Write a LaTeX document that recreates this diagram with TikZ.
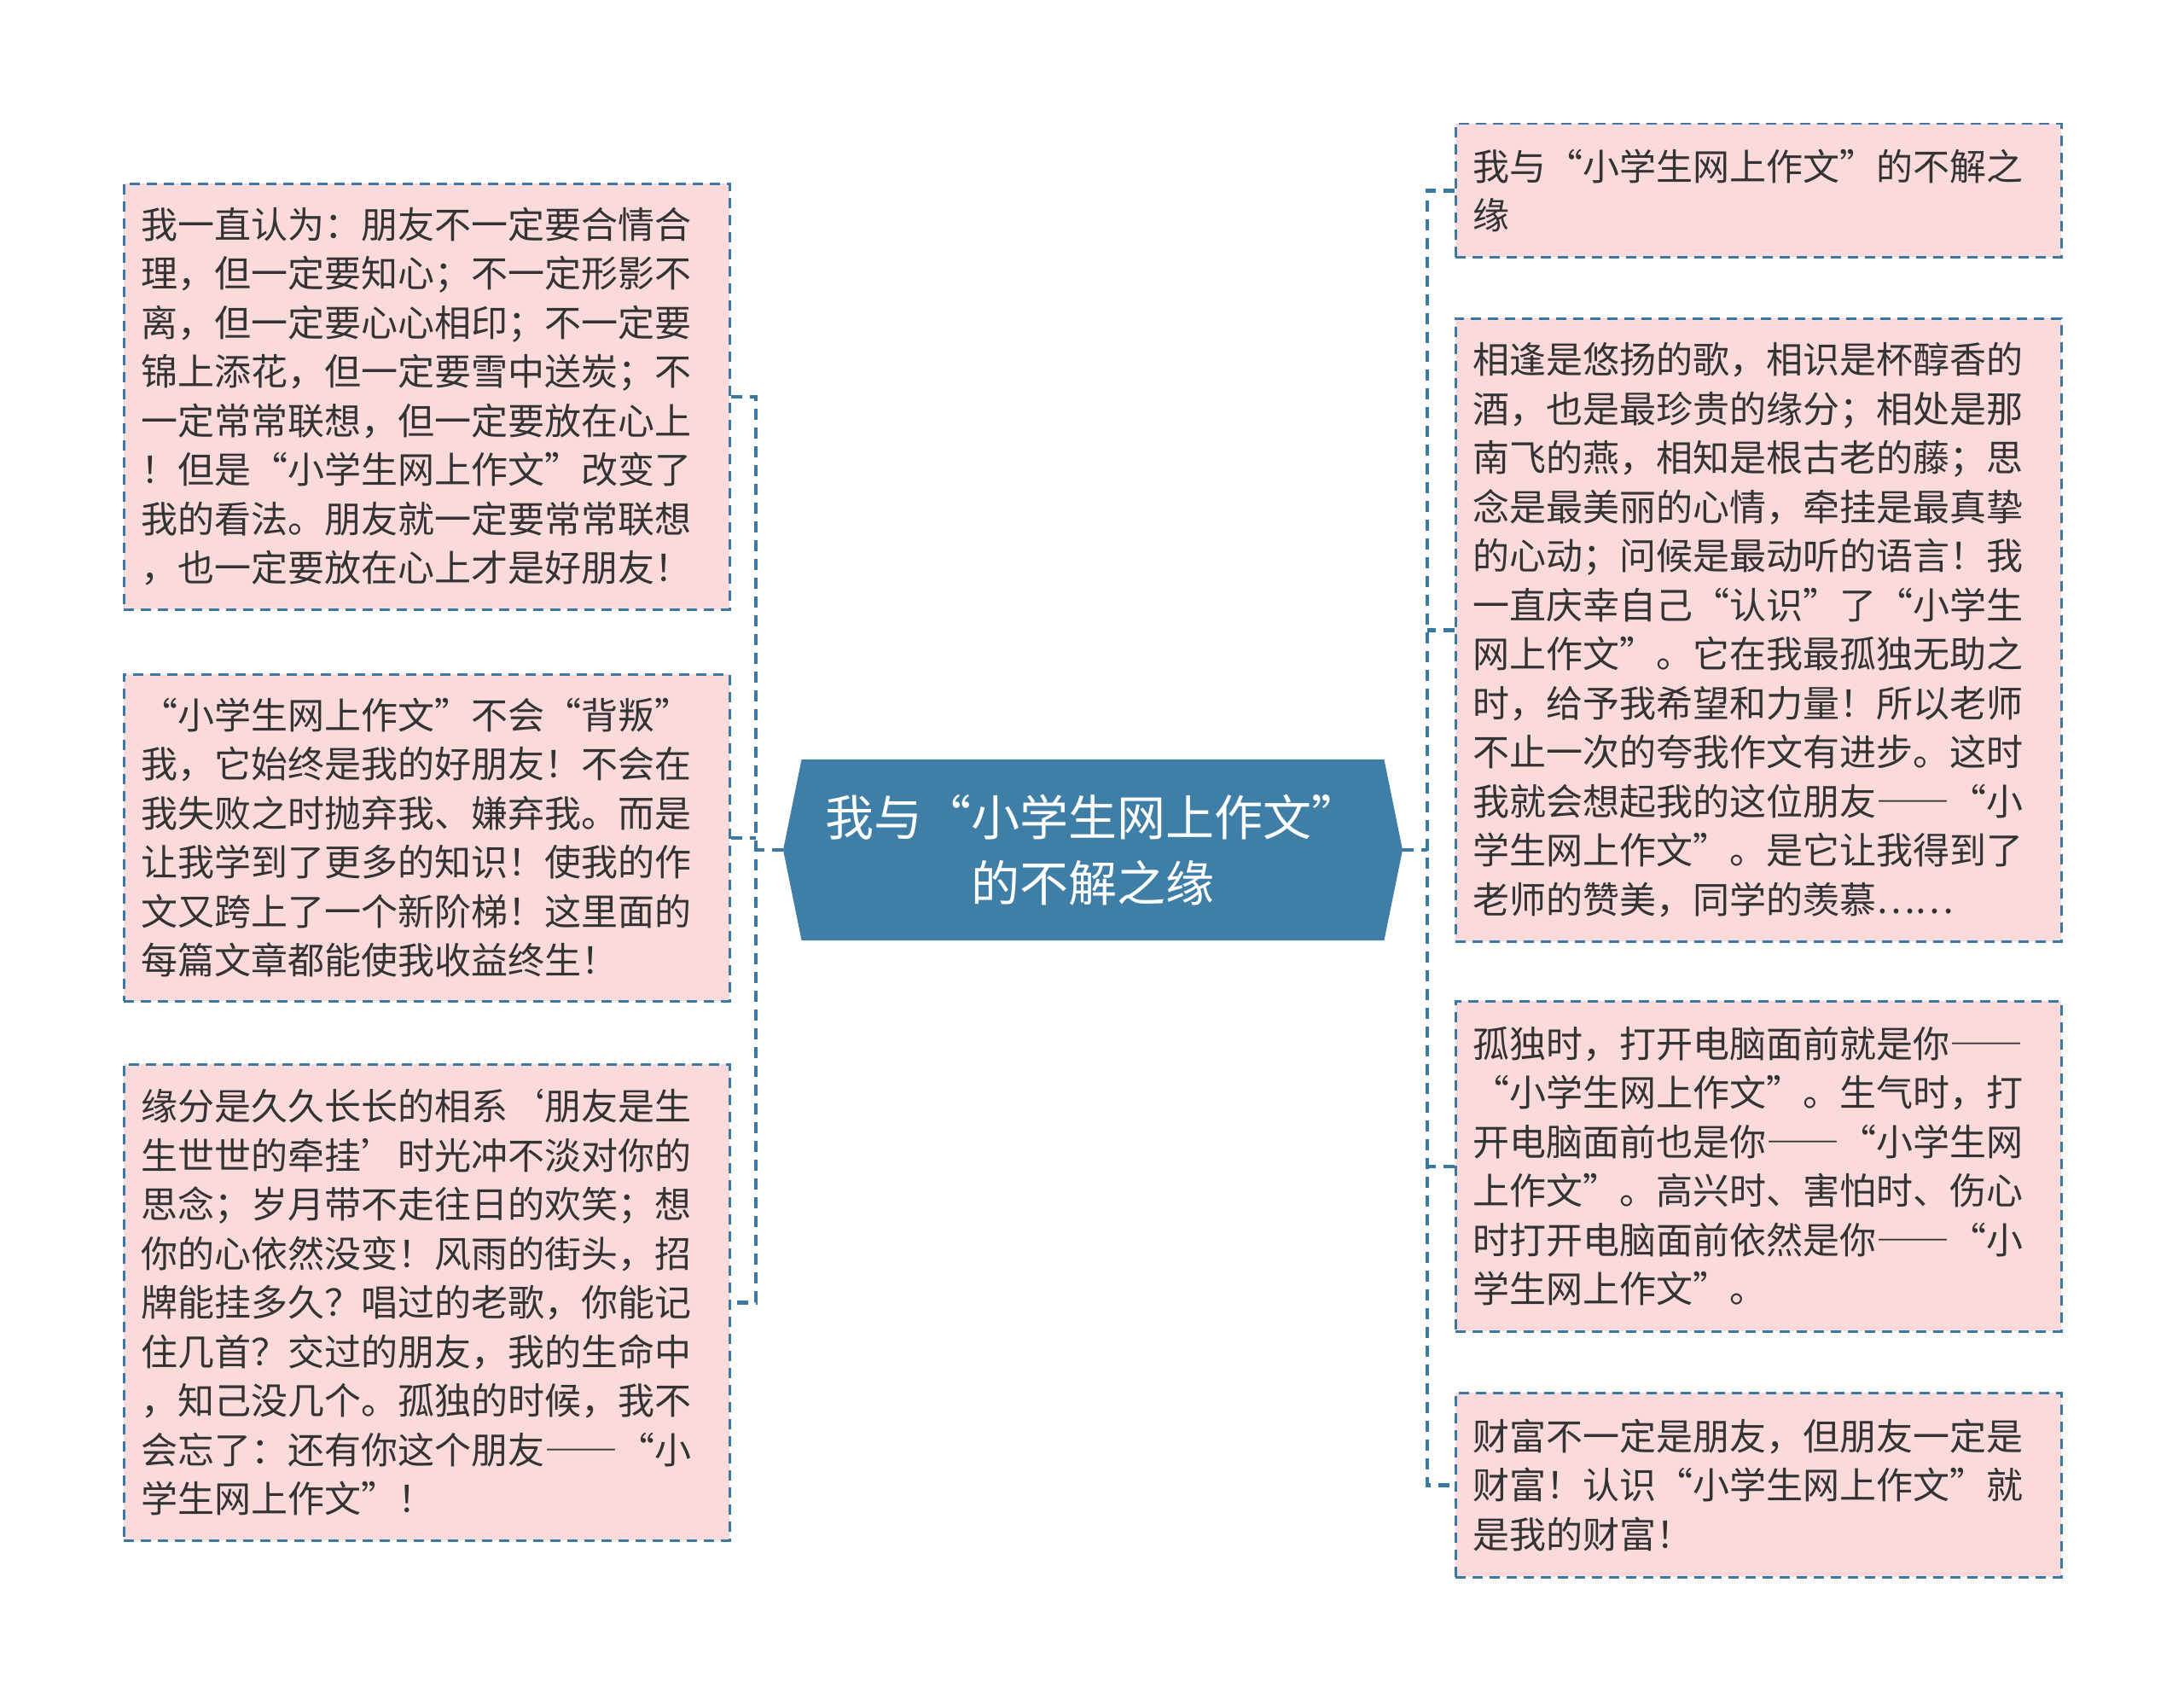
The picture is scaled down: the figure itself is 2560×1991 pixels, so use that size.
\documentclass[tikz,border=0pt]{standalone}
\usepackage{fontspec}
\newfontfamily\cjk{Noto Sans CJK SC}
\usepackage{tikz}
\usetikzlibrary{shapes.symbols}
\definecolor{topicblue}{HTML}{3F7EA6}
\definecolor{linkblue}{HTML}{3B78A2}
\definecolor{notepink}{HTML}{FADADA}
\definecolor{notetext}{HTML}{333333}
\newcommand{\longdash}{{\addfontfeature{CharacterWidth=Full}——}}

\begin{document}
\begin{tikzpicture}[x=1pt, y=-1pt,
  note/.style={draw=linkblue, line width=2.5pt, dash pattern=on 12pt off 8pt,
    fill=notepink, text=notetext, anchor=north west, minimum width=710pt,
    text width=670pt, inner xsep=20pt, align=left,
    font=\cjk\fontsize{43}{57.5}\selectfont},
  topic/.style={signal, signal to=west and east, signal pointer angle=157,
    fill=topicblue, text=white, minimum width=726pt, minimum height=212pt,
    align=center, font=\cjk\fontsize{57}{77}\selectfont},
  link/.style={draw=linkblue, line width=4.5pt, dash pattern=on 13pt off 9pt}]
\useasboundingbox[fill=white] (0,0) rectangle (2560,1991);

\node[topic] (topic) at (1281,996) {我与“小学生网上作文”\\的不解之缘};

% left side
\node[note, minimum height=499pt] (l1) at (144,214) {我一直认为：朋友不一定要合情合\\理，但一定要知心；不一定形影不\\离，但一定要心心相印；不一定要\\锦上添花，但一定要雪中送炭；不\\一定常常联想，但一定要放在心上\\！但是“小学生网上作文”改变了\\我的看法。朋友就一定要常常联想\\，也一定要放在心上才是好朋友！};
\node[note, minimum height=383pt] (l2) at (144,789) {“小学生网上作文”不会“背叛”\\我，它始终是我的好朋友！不会在\\我失败之时抛弃我、嫌弃我。而是\\让我学到了更多的知识！使我的作\\文又跨上了一个新阶梯！这里面的\\每篇文章都能使我收益终生！};
\node[note, minimum height=558pt] (l3) at (144,1246) {缘分是久久长长的相系‘朋友是生\\生世世的牵挂’时光冲不淡对你的\\思念；岁月带不走往日的欢笑；想\\你的心依然没变！风雨的街头，招\\牌能挂多久？唱过的老歌，你能记\\住几首？交过的朋友，我的生命中\\，知己没几个。孤独的时候，我不\\会忘了：还有你这个朋友\longdash“小\\学生网上作文”！};

% right side
\node[note, minimum height=156pt] (r1) at (1705,144) {我与“小学生网上作文”的不解之\\缘};
\node[note, minimum height=730pt] (r2) at (1705,372) {相逢是悠扬的歌，相识是杯醇香的\\酒，也是最珍贵的缘分；相处是那\\南飞的燕，相知是根古老的藤；思\\念是最美丽的心情，牵挂是最真挚\\的心动；问候是最动听的语言！我\\一直庆幸自己“认识”了“小学生\\网上作文”。它在我最孤独无助之\\时，给予我希望和力量！所以老师\\不止一次的夸我作文有进步。这时\\我就会想起我的这位朋友\longdash“小\\学生网上作文”。是它让我得到了\\老师的赞美，同学的羡慕……};
\node[note, minimum height=387pt] (r3) at (1705,1172) {孤独时，打开电脑面前就是你\longdash\\“小学生网上作文”。生气时，打\\开电脑面前也是你\longdash“小学生网\\上作文”。高兴时、害怕时、伤心\\时打开电脑面前依然是你\longdash“小\\学生网上作文”。};
\node[note, minimum height=216pt] (r4) at (1705,1631) {财富不一定是朋友，但朋友一定是\\财富！认识“小学生网上作文”就\\是我的财富！};

% connectors
\coordinate (lj) at ([xshift=-32pt]topic.west);
\coordinate (rj) at ([xshift=29pt]topic.east);
\draw[link] (topic.west) -- (lj);
\draw[link] (l1.east) -| (lj) |- (l3.east);
\draw[link] (l2.east) -- (l2.east -| lj);
\draw[link] (topic.east) -- (rj);
\draw[link] (r1.west) -| (rj) |- (r4.west);
\foreach \n in {r2,r3}
  \draw[link] (\n.west) -- (\n.west -| rj);
\end{tikzpicture}
\end{document}
